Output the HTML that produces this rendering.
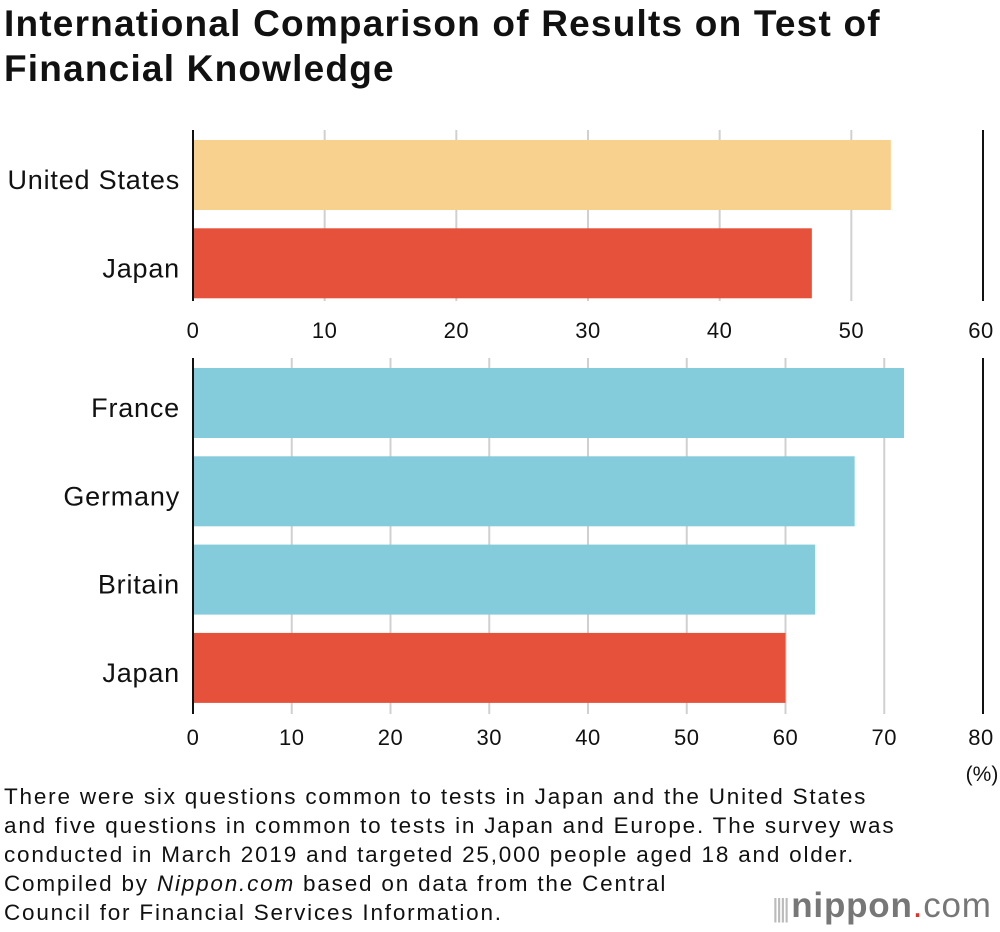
<!DOCTYPE html>
<html><head><meta charset="utf-8"><style>
body{margin:0;background:#fff;width:1000px;height:932px;overflow:hidden;font-family:"Liberation Sans",sans-serif}
h1{position:absolute;left:4px;top:1px;margin:0;font-size:37px;line-height:45px;font-weight:bold;color:#111;letter-spacing:1.2px}
.note{position:absolute;left:4px;top:782px;font-size:22.5px;line-height:29px;color:#111;letter-spacing:1.8px;white-space:nowrap}
</style></head><body>
<h1>International Comparison of Results on Test of<br>Financial Knowledge</h1>
<svg id="c" width="1000" height="932" style="position:absolute;left:0;top:0"></svg>
<div class="note">There were six questions common to tests in Japan and the United States<br>and five questions in common to tests in Japan and Europe. The survey was<br>conducted in March 2019 and targeted 25,000 people aged 18 and older.<br>Compiled by <i>Nippon.com</i> based on data from the Central<br>Council for Financial Services Information.</div>
<div style="position:absolute;left:772px;top:886px;font-size:35px;color:#777;font-family:'Liberation Sans',sans-serif;letter-spacing:0.8px;white-space:nowrap"><span style="color:#bbb;font-size:26px;letter-spacing:-3px">|||| </span><b>nippon</b><span style="color:#e5302a">.</span>com</div>
<script>
const topCats=["United States","Japan"];
const topVals=[53,47];
const topColors=["#f9d18f","#e5513a"];
const topTicks=[0,10,20,30,40,50,60];
const botCats=["France","Germany","Britain","Japan"];
const botVals=[72,67,63,60];
const botColors=["#84cbdc","#84cbdc","#84cbdc","#e5513a"];
const botTicks=[0,10,20,30,40,50,60,70,80];
const svg=document.getElementById('c');
const NS='http://www.w3.org/2000/svg';
function mk(t,a){const e=document.createElementNS(NS,t);for(const k in a)e.setAttribute(k,a[k]);svg.appendChild(e);return e;}
function panel(cats,vals,colors,ticks,yTop,yBot,firstBar,name,tickOff){
  const x0=193,x1=983,max=ticks[ticks.length-1];
  const sx=v=>x0+(x1-x0)*v/max;
  ticks.forEach((t,i)=>{
    if(i>0&&i<ticks.length-1){const g=mk('line',{x1:sx(t),x2:sx(t),y1:yTop,y2:yBot,stroke:'#d0d0d0','stroke-width':2});
    
    }
    const tx=mk('text',{x:i==ticks.length-1?sx(t)-2:sx(t),y:yBot+tickOff,'text-anchor':'middle','font-size':22,'letter-spacing':0.5,fill:'#111'});
    
    
    tx.textContent=t;
  });
  cats.forEach((c,i)=>{
    const y=firstBar+i*88.3;
    const r=mk('rect',{x:x0,y:y,width:sx(vals[i])-x0,height:70,fill:colors[i]});
    
    
    const l=mk('text',{x:180,y:y+49,'text-anchor':'end','font-size':27,'letter-spacing':0.8,fill:'#111'});
    
    
    l.textContent=c;
  });
  const a=mk('line',{x1:x0,x2:x0,y1:yTop,y2:yBot,stroke:'#111','stroke-width':2});
  
  
  const b=mk('line',{x1:x1,x2:x1,y1:yTop,y2:yBot,stroke:'#111','stroke-width':2});
  
  
}
panel(topCats,topVals,topColors,topTicks,130,301,140,'us-japan',37);
panel(botCats,botVals,botColors,botTicks,358,714,368,'europe-japan',31);
const u=mk('text',{x:982,y:781,'text-anchor':'middle','font-size':21,fill:'#111'});


u.textContent='(%)';
</script>
</body></html>
